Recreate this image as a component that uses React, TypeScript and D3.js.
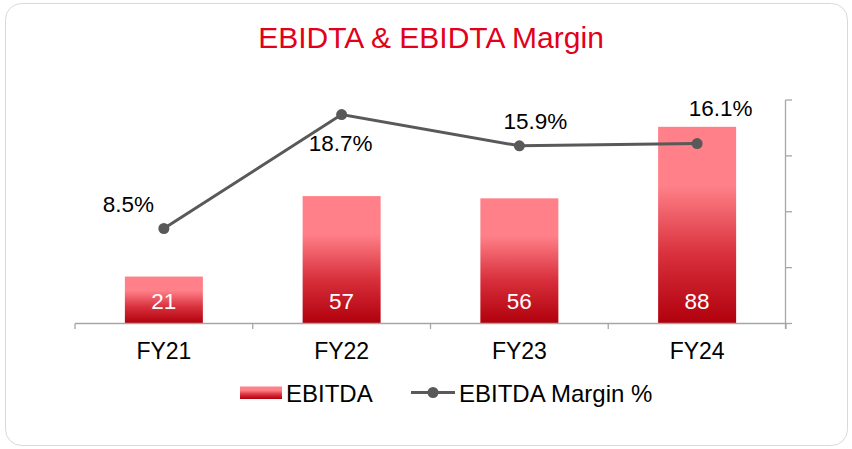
import React from "react";
import * as d3 from "d3";

const categories = ["FY21", "FY22", "FY23", "FY24"];
const ebitda = [21, 57, 56, 88];
const margin = [8.5, 18.7, 15.9, 16.1];
const marginLabels = ["8.5%", "18.7%", "15.9%", "16.1%"];
const marginTicks = [0, 5, 10, 15, 20];

const W = 852;
const H = 449;
const FONT = "'Liberation Sans', Arial, sans-serif";

export default function App() {
  const xc = d3.scalePoint<string>().domain(categories).range([75, 786]).padding(0.5);
  const yBar = d3.scaleLinear().domain([0, 100]).range([323.5, 100]);
  const yLine = d3.scaleLinear().domain([0, 20]).range([323.5, 100]);
  const line = d3
    .line<number>()
    .x((_, i) => xc(categories[i]) as number)
    .y((d) => yLine(d));
  const bw = 78;
  const labelOffsets = [
    { dx: -35.5, dy: -16.3 },
    { dx: -1, dy: 36 },
    { dx: 16, dy: -16.5 },
    { dx: 23.5, dy: -28 },
  ];
  const bandEdges = d3.range(categories.length + 1).map((i) => 75 + (i * (786 - 75)) / categories.length);

  return (
    <svg width={W} height={H} style={{ position: "absolute", left: 0, top: 0 }} fontFamily={FONT}>
      <defs>
        <linearGradient id="barGrad" x1="0" y1="0" x2="0" y2="1">
          <stop offset="0%" stopColor="#ff8088" />
          <stop offset="30%" stopColor="#ff8088" />
          <stop offset="65%" stopColor="#d8303c" />
          <stop offset="100%" stopColor="#b0000c" />
        </linearGradient>
      </defs>
      <rect x={5.5} y={3.5} width={842} height={442} rx={16} fill="#fff" stroke="#d9d9d9" />
      <text x={431} y={48} textAnchor="middle" fontSize={30} fill="#e2001a">
        EBIDTA &amp; EBIDTA Margin
      </text>

      {categories.map((c, i) => {
        const cx = xc(c) as number;
        return (
          <g key={c}>
            <rect x={cx - bw / 2} y={yBar(ebitda[i])} width={bw} height={yBar(0) - yBar(ebitda[i])} fill="url(#barGrad)" />
            <text x={cx} y={309.3} textAnchor="middle" fontSize={22.5} fill="#fff">
              {ebitda[i]}
            </text>
          </g>
        );
      })}

      {/* x axis */}
      <line x1={75} x2={786} y1={323.5} y2={323.5} stroke="#a6a6a6" strokeWidth={1.3} />
      {bandEdges.map((e, i) => (
        <line key={i} x1={e} x2={e} y1={323.5} y2={329} stroke="#a6a6a6" strokeWidth={1.3} />
      ))}
      {categories.map((c) => (
        <text key={c} x={xc(c) as number} y={359.3} textAnchor="middle" fontSize={23} fill="#000">
          {c}
        </text>
      ))}

      {/* right axis */}
      <line x1={785.5} x2={785.5} y1={yLine(20)} y2={329} stroke="#a6a6a6" strokeWidth={1.3} />
      {marginTicks.map((t) => (
        <line key={t} x1={785.5} x2={792} y1={yLine(t)} y2={yLine(t)} stroke="#a6a6a6" strokeWidth={1.3} />
      ))}

      {/* line */}
      <path d={line(margin) as string} fill="none" stroke="#595959" strokeWidth={3} />
      {margin.map((m, i) => (
        <circle key={i} cx={xc(categories[i]) as number} cy={yLine(m)} r={5.5} fill="#595959" />
      ))}
      {margin.map((m, i) => (
        <text
          key={i}
          x={(xc(categories[i]) as number) + labelOffsets[i].dx}
          y={yLine(m) + labelOffsets[i].dy}
          textAnchor="middle"
          fontSize={22.5}
          fill="#000"
        >
          {marginLabels[i]}
        </text>
      ))}

      {/* legend */}
      <rect x={240} y={386.5} width={42} height={12.5} fill="url(#barGrad)" />
      <text x={286} y={401.5} fontSize={24} fill="#000">
        EBITDA
      </text>
      <line x1={411} x2={455} y1={392.5} y2={392.5} stroke="#595959" strokeWidth={3} />
      <circle cx={433} cy={392.5} r={5.5} fill="#595959" />
      <text x={459} y={401.5} fontSize={24} fill="#000">
        EBITDA Margin %
      </text>
    </svg>
  );
}
